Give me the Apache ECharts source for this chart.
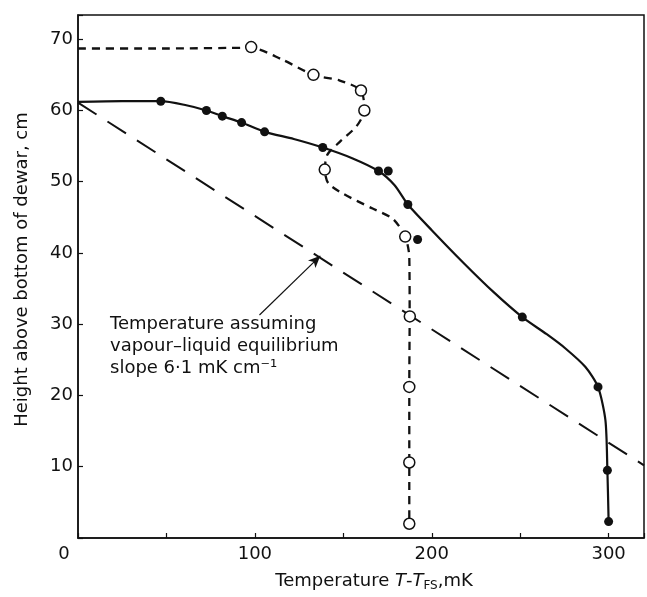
<!DOCTYPE html>
<html>
<head>
<meta charset="utf-8">
<script src="https://cdn.jsdelivr.net/npm/echarts@6/dist/echarts.min.js"></script>
<style>html,body{margin:0;padding:0;background:#fff}#c{width:647px;height:597px}</style>
</head>
<body>
<div id="c"></div>
<script>
// Filled dots (measured points)
const solidPts = [[46.8,61.3],[72.6,60.0],[81.6,59.2],[92.5,58.3],[105.5,57.0],[138.4,54.8],[169.9,51.5],[175.4,51.5],[186.5,46.8],[192.0,41.9],[251.2,31.0],[294.0,21.2],[299.3,9.5],[300.0,2.3]];
// Solid fitted curve
const solidCurve = [[0,61.2],[25,61.3],[46.8,61.3],[60,60.8],[72.6,60.0],[81.6,59.2],[92.5,58.3],[105.5,57.0],[122,56.0],[138.4,54.8],[155,53.3],[169.9,51.5],[179,49.5],[186.5,46.8],[200,43.2],[218,38.6],[235,34.5],[251.2,31.0],[265,28.6],[275.6,26.6],[286.9,24.0],[294.0,21.2],[298.2,16.5],[299.3,9.5],[300.0,2.3]];
// Open circles
const openPts = [[97.9,68.9],[133.1,65.0],[160.0,62.8],[161.9,60.0],[139.5,51.7],[185.0,42.3],[187.6,31.1],[187.3,21.2],[187.3,10.6],[187.3,2.0]];
// Short-dashed curve through open circles
const dashCurve = [[0,68.7],[50,68.7],[97.9,68.8],[115,67.2],[133.1,65.0],[148,64.2],[160.0,62.8],[161.9,60.0],[157.5,57.8],[148,55.6],[141,53.8],[139.5,51.7],[141.5,49.8],[150,48.3],[166,46.3],[178,44.8],[185.0,42.3],[187.3,39.5],[187.5,31.1],[187.3,21.2],[187.3,10.6],[187.3,2.0]];
// Long-dashed equilibrium line
const eqLine = [[0,61.1],[320,10.2]];
// Arrow from annotation to line
const arrowFrom = [102.6,31.3];
const arrowTo = [137.0,39.6];
const xLabels = [0,100,200,300];
const yLabels = [10,20,30,40,50,60,70];

const chart = echarts.init(document.getElementById('c'));
const ink = '#111';
const font = 'DejaVu Sans';
chart.setOption({
  animation:false,
  backgroundColor:'#fff',
  grid:{left:78,right:2,top:15,bottom:57,show:true,borderColor:ink,borderWidth:1.5,backgroundColor:'transparent'},
  xAxis:{type:'value',min:0,max:320,interval:50,
    axisLine:{lineStyle:{color:ink,width:1.5}},
    axisTick:{inside:true,length:5,lineStyle:{color:ink,width:1.2}},
    splitLine:{show:false},
    axisLabel:{color:ink,fontFamily:font,fontSize:18,margin:7,
      formatter:v=>{ if(v===0) return '{z|0}'; return xLabels.indexOf(v)>=0? String(v):''; },
      rich:{z:{fontFamily:font,fontSize:18,color:ink,padding:[0,28,0,0]}}},
    name:'{a|Temperature }{i|T}{a|-}{i|T}{s|FS}{a|,mK}',nameLocation:'middle',nameGap:33,
    nameTextStyle:{color:ink,fontFamily:font,fontSize:18,padding:[0,0,0,26],
      rich:{a:{fontFamily:font,fontSize:18,color:ink},i:{fontFamily:font,fontSize:18,fontStyle:'italic',color:ink},s:{fontFamily:font,fontSize:12,color:ink,verticalAlign:'bottom',padding:[9,0,0,0]}}}
  },
  yAxis:{type:'value',min:0,max:73.4,interval:10,
    axisLine:{lineStyle:{color:ink,width:1.5}},
    axisTick:{inside:true,length:5,lineStyle:{color:ink,width:1.2}},
    splitLine:{show:false},
    axisLabel:{color:ink,fontFamily:font,fontSize:18,margin:5,
      formatter:v=> yLabels.indexOf(v)>=0? String(v):''},
    name:'Height above bottom of dewar, cm',nameLocation:'middle',nameGap:47,
    nameTextStyle:{color:ink,fontFamily:font,fontSize:18,padding:[0,0,0,14]}
  },
  graphic:[{type:'text',left:110,top:313,style:{
    text:'Temperature assuming\nvapour–liquid equilibrium\nslope 6·1 mK cm⁻¹',
    font:'18px "DejaVu Sans"',fill:ink,lineHeight:22}}],
  series:[
    {type:'line',data:eqLine,showSymbol:false,silent:true,
      lineStyle:{color:ink,width:2,type:[22,13]},z:2,
      markLine:{silent:true,symbol:['none','arrow'],symbolSize:[8,12],label:{show:false},
        lineStyle:{color:ink,width:1.2,type:'solid'},
        data:[[{coord:arrowFrom},{coord:arrowTo}]]}},
    {type:'line',data:solidCurve,showSymbol:false,smooth:0.25,silent:true,
      lineStyle:{color:ink,width:2.2},z:3},
    {type:'line',data:dashCurve,showSymbol:false,smooth:0.25,silent:true,
      lineStyle:{color:ink,width:2.3,type:[8,6]},z:3},
    {type:'scatter',data:solidPts,symbol:'circle',symbolSize:9,silent:true,itemStyle:{color:ink,opacity:1},z:5},
    {type:'scatter',data:openPts,symbol:'circle',symbolSize:11,silent:true,itemStyle:{color:'#fff',borderColor:ink,borderWidth:1.5,opacity:1},z:6}
  ]
});
</script>
</body>
</html>
